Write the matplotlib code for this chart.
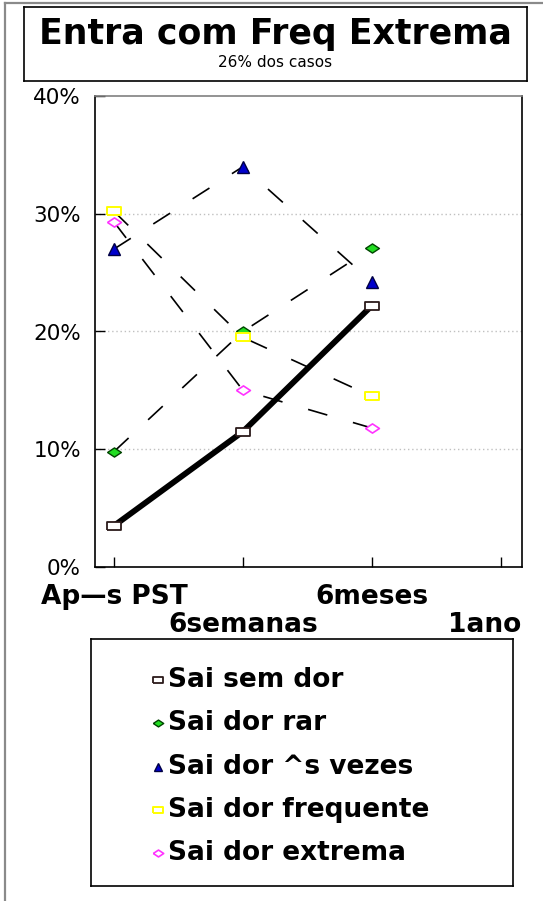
import matplotlib.pyplot as plt
from matplotlib.lines import Line2D
from matplotlib import transforms

# categories on the x axis
periodos = ["Ap—s PST", "6semanas", "6meses", "1ano"]
x_dados = [0, 1, 2]

# values in % per series
sem_dor = [3.5, 11.5, 22.2]
dor_rar = [9.8, 20.0, 27.1]
dor_as_vezes = [27.0, 34.0, 24.2]
dor_frequente = [30.2, 19.5, 14.5]
dor_extrema = [29.3, 15.0, 11.8]

nomes = ["Sai sem dor", "Sai dor rar", "Sai dor ^s vezes",
         "Sai dor frequente", "Sai dor extrema"]
y_ticks = [0, 10, 20, 30, 40]

plt.rcParams['font.family'] = ['DejaVu Sans']

W, H = 543, 901
fig = plt.figure(figsize=(W / 100, H / 100), dpi=100)

# marker shapes (wider than tall, like the original)
ret = [(-1, -0.68), (1, -0.68), (1, 0.68), (-1, 0.68), (-1, -0.68)]
losango = [(-1, 0), (0, 0.66), (1, 0), (0, -0.66), (-1, 0)]

estilos = [
    dict(marker=ret, ms=9.5, mfc='white', mec='#2b1a1a', mew=1.3),
    dict(marker=losango, ms=10, mfc='#22dd22', mec='#004400', mew=1.0),
    dict(marker='^', ms=8.5, mfc='#0000cc', mec='#000044', mew=1.0),
    dict(marker=ret, ms=9.5, mfc='white', mec='#ffff00', mew=1.4),
    dict(marker=losango, ms=10, mfc='white', mec='#ff33ff', mew=1.2),
]

# outer frame (left and top edges only visible)
fig.add_artist(Line2D([4.5 / W, 4.5 / W], [0, 1 - 2.5 / H], color='#8a8a8a', lw=1.6))
fig.add_artist(Line2D([4.5 / W, 1], [1 - 2.5 / H, 1 - 2.5 / H], color='#8a8a8a', lw=1.6))

#############################
# title box
#############################
tax = fig.add_axes([24 / W, 1 - 81 / H, 503 / W, 74 / H])
tax.set_xticks([])
tax.set_yticks([])
for s in tax.spines.values():
    s.set_linewidth(1.2)
tax.text(0.5, 0.635, "Entra com Freq Extrema", ha='center', va='center',
         fontsize=25, fontweight='bold', transform=tax.transAxes)
tax.text(0.5, 0.25, "26% dos casos", ha='center', va='center',
         fontsize=11, transform=tax.transAxes)

#############################
# main plot
#############################
ax = fig.add_axes([95 / W, 1 - 567 / H, 426.5 / W, 471 / H])
ax.set_xlim(-0.147, 3.16)
ax.set_ylim(0, 40)

for yv in y_ticks[1:-1]:
    ax.axhline(yv, color='#c0c0c0', lw=1.0, ls=(0, (1, 2)), zorder=0)

ax.plot(x_dados, sem_dor, color='black', lw=4.2, zorder=2)
linhas = [dor_rar, dor_as_vezes, dor_frequente, dor_extrema]
for vals in linhas:
    ax.plot(x_dados, vals, color='black', lw=1.2, ls=(0, (12, 16)), zorder=2)

todas = [sem_dor, dor_rar, dor_as_vezes, dor_frequente, dor_extrema]
for vals, st in zip(todas, estilos):
    ax.plot(x_dados, vals, ls='none', zorder=3, **st)

ax.set_yticks(y_ticks)
ax.set_yticklabels([f"{v}%" for v in y_ticks])
ax.set_xticks(range(len(periodos)))
ax.set_xticklabels([])
ax.tick_params(axis='y', direction='in', length=7, width=1, pad=10, labelsize=15.5)
ax.tick_params(axis='x', direction='in', length=7, width=1)
for nome in ['left', 'bottom', 'right']:
    ax.spines[nome].set_linewidth(1.2)
ax.spines['top'].set_color('#808080')
ax.spines['top'].set_linewidth(1.2)

# staggered x labels
trans = transforms.blended_transform_factory(ax.transData, ax.transAxes)
for i, rot in enumerate(periodos):
    yl = -0.064 if i % 2 == 0 else -0.123
    t = trans
    if i == len(periodos) - 1:
        t = trans + transforms.ScaledTranslation(-16 / 100, 0, fig.dpi_scale_trans)
    ax.text(i, yl, rot, ha='center', va='center', fontsize=19,
            fontweight='bold', transform=t, clip_on=False)

#############################
# legend box
#############################
lax = fig.add_axes([91 / W, 1 - 886 / H, 422 / W, 247 / H])
lax.set_xlim(0, 422)
lax.set_ylim(247, 0)
lax.set_xticks([])
lax.set_yticks([])
for s in lax.spines.values():
    s.set_linewidth(1.2)

for i, (nome, st) in enumerate(zip(nomes, estilos)):
    yy = 41 + 43.3 * i
    st2 = dict(st)
    st2['ms'] = st['ms'] * 0.75
    lax.plot([67], [yy], ls='none', **st2)
    lax.text(77, yy, nome, ha='left', va='center', fontsize=19,
             fontweight='bold')

fig.savefig("out.png", dpi=100)
